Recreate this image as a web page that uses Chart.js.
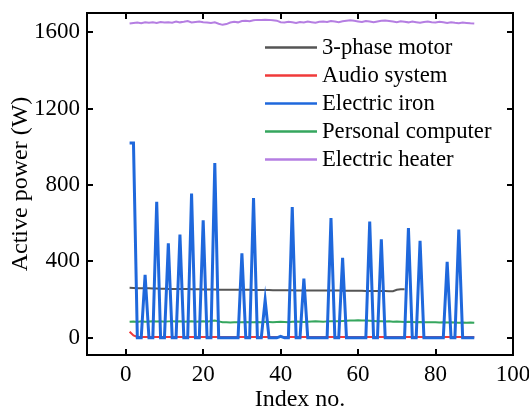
<!DOCTYPE html>
<html>
<head>
<meta charset="utf-8">
<title>Active power by appliance</title>
<script src="https://cdn.jsdelivr.net/npm/chart.js@4/dist/chart.umd.min.js"></script>
<style>
  html, body { margin: 0; padding: 0; background: #fff; }
  #wrap { width: 529px; height: 412px; }
</style>
</head>
<body>
<div id="wrap"><canvas id="powerChart" width="529" height="412"></canvas></div>
<script>
// ---- data ----
const indexNo = [
  1, 2, 3, 4, 5, 6, 7, 8, 9, 10, 11, 12, 13, 14, 15, 16, 17, 18, 19, 20,
  21, 22, 23, 24, 25, 26, 27, 28, 29, 30, 31, 32, 33, 34, 35, 36, 37, 38, 39, 40,
  41, 42, 43, 44, 45, 46, 47, 48, 49, 50, 51, 52, 53, 54, 55, 56, 57, 58, 59, 60,
  61, 62, 63, 64, 65, 66, 67, 68, 69, 70, 71, 72, 73, 74, 75, 76, 77, 78, 79, 80,
  81, 82, 83, 84, 85, 86, 87, 88, 89, 90
];

const motor = [
  262, 261, 260, 260, 259, 259, 258, 258, 257, 257, 256, 256, 256, 255, 255, 255, 254, 254, 254, 253,
  253, 253, 253, 252, 252, 252, 252, 251, 251, 251, 251, 251, 250, 250, 250, 250, 250, 249, 249, 249,
  249, 249, 249, 248, 248, 248, 248, 248, 248, 247, 247, 247, 247, 247, 247, 246, 246, 246, 246, 246,
  246, 245, 245, 245, 245, 245, 245, 244, 244, 251, 254, 254
];

const audio = [
  32, 12, 4, 4, 4, 4, 4, 4, 4, 4, 4, 4, 4, 4, 4, 4, 4, 4, 4, 4,
  4, 4, 4, 4, 4, 4, 4, 4, 4, 4, 4, 4, 4, 4, 4, 4, 4, 4, 4, 4,
  4, 4, 4, 4, 4, 4, 4, 4, 4, 4, 4, 4, 4, 4, 4, 4, 4, 4, 4, 4,
  4, 4, 4, 4, 4, 4, 4, 4, 4, 4, 4, 4, 4, 4, 4, 4, 4, 4, 4, 4,
  4, 4, 4, 4, 4, 4, 4, 4, 4, 4
];

const iron = [
  1020, 1020, 0, 0, 330, 0, 0, 712, 0, 0, 495, 0, 0, 540, 0, 0, 755, 0, 0, 615,
  0, 0, 915, 0, 0, 0, 0, 0, 0, 442, 0, 0, 732, 0, 0, 198, 0, 0, 0, 8,
  0, 0, 685, 0, 0, 310, 0, 0, 0, 0, 0, 0, 627, 0, 0, 418, 0, 0, 0, 0,
  0, 0, 608, 0, 0, 515, 0, 0, 0, 0, 0, 0, 574, 0, 0, 508, 0, 0, 0, 0,
  0, 0, 398, 0, 0, 567, 0, 0, 0, 0
];

const computer = [
  84, 85, 83, 86, 84, 85, 87, 85, 86, 84, 86, 87, 85, 86, 84, 85, 86, 84, 85, 86,
  84, 88, 90, 86, 82, 81, 80, 81, 82, 81, 83, 82, 81, 83, 82, 84, 83, 82, 83, 84,
  83, 82, 84, 85, 84, 83, 84, 85, 86, 85, 84, 86, 87, 86, 87, 88, 89, 90, 91, 92,
  91, 90, 89, 88, 87, 86, 85, 86, 84, 85, 84, 83, 84, 83, 82, 83, 82, 81, 82, 81,
  80, 81, 80, 81, 80, 79, 80, 79, 80, 79
];

const heater = [
  1645, 1648, 1650, 1647, 1652, 1649, 1651, 1648, 1653, 1650,
  1652, 1649, 1655, 1651, 1654, 1658, 1650, 1653, 1656, 1652,
  1650, 1648, 1651, 1644, 1638, 1642, 1650, 1654, 1651, 1658,
  1660, 1657, 1662, 1664, 1663, 1665, 1664, 1662, 1660, 1652,
  1650, 1654, 1651, 1648, 1653, 1650, 1655, 1652, 1649, 1654,
  1656, 1653, 1658, 1655, 1652, 1657, 1660, 1662, 1659, 1656,
  1653, 1658, 1655, 1652, 1656, 1659, 1661, 1658, 1655, 1652,
  1657, 1654, 1651, 1655, 1652, 1649, 1653, 1656, 1652, 1650,
  1654, 1651, 1648, 1652, 1649, 1647, 1650, 1648, 1646, 1645
];

const xTicks = [0, 20, 40, 60, 80, 100];
const yTicks = [0, 400, 800, 1200, 1600];

const FONT = "'Liberation Serif', 'Times New Roman', serif";

function pts(values) {
  return values.map((v, i) => ({ x: indexNo[i], y: v }));
}

// frame with inward ticks on all four sides
const framePlugin = {
  id: 'frame',
  afterDraw(chart) {
    const { ctx, chartArea: a, scales: { x, y } } = chart;
    const len = 6;
    ctx.save();
    ctx.strokeStyle = '#000';
    ctx.lineWidth = 2;
    ctx.strokeRect(a.left, a.top, a.right - a.left, a.bottom - a.top);
    ctx.beginPath();
    xTicks.forEach(v => {
      const px = Math.round(x.getPixelForValue(v));
      ctx.moveTo(px, a.bottom); ctx.lineTo(px, a.bottom - len);
      ctx.moveTo(px, a.top);    ctx.lineTo(px, a.top + len);
    });
    yTicks.forEach(v => {
      const py = Math.round(y.getPixelForValue(v));
      ctx.moveTo(a.left, py);  ctx.lineTo(a.left + len, py);
      ctx.moveTo(a.right, py); ctx.lineTo(a.right - len, py);
    });
    ctx.stroke();
    ctx.restore();
  }
};

// legend inside the plot, top right
const legendPlugin = {
  id: 'innerLegend',
  afterDraw(chart) {
    const { ctx } = chart;
    const x0 = 265, x1 = 317, tx = 322, y0 = 47.5, step = 28;
    ctx.save();
    ctx.font = '22.7px ' + FONT;
    ctx.textBaseline = 'middle';
    ctx.fillStyle = '#000';
    chart.data.datasets.forEach((ds, i) => {
      const yy = y0 + i * step;
      ctx.strokeStyle = ds.borderColor;
      ctx.lineWidth = 2.5;
      ctx.beginPath();
      ctx.moveTo(x0, yy); ctx.lineTo(x1, yy);
      ctx.stroke();
      ctx.fillText(ds.label, tx, yy + 1);
    });
    ctx.restore();
  }
};

new Chart(document.getElementById('powerChart'), {
  type: 'line',
  data: {
    datasets: [
      { label: '3-phase motor',     data: pts(motor),    borderColor: '#555555', borderWidth: 2,   order: 3 },
      { label: 'Audio system',      data: pts(audio),    borderColor: '#f03a3a', borderWidth: 2,   order: 1 },
      { label: 'Electric iron',     data: pts(iron),     borderColor: '#1f68dc', borderWidth: 3,   order: 0 },
      { label: 'Personal computer', data: pts(computer), borderColor: '#35a65e', borderWidth: 2,   order: 2 },
      { label: 'Electric heater',   data: pts(heater),   borderColor: '#b57ee2', borderWidth: 2,   order: 4 }
    ]
  },
  options: {
    responsive: false,
    animation: false,
    layout: { padding: { top: 13, right: 16, left: 0, bottom: 0 } },
    elements: { point: { radius: 0 }, line: { tension: 0 } },
    plugins: { legend: { display: false }, tooltip: { enabled: false } },
    scales: {
      x: {
        type: 'linear',
        min: -10, max: 100,
        afterBuildTicks: s => { s.ticks = xTicks.map(v => ({ value: v })); },
        afterFit: s => { s.height = 57; s.paddingLeft = 0; s.paddingRight = 0; },
        grid: { display: false, drawTicks: false },
        border: { display: false },
        ticks: { color: '#000', padding: 6, maxRotation: 0, font: { family: FONT, size: 23 },
                 callback: v => String(v) },
        title: { display: true, text: 'Index no.', color: '#000', padding: { top: 0, bottom: 0 },
                 font: { family: FONT, size: 24, lineHeight: 1 } }
      },
      y: {
        min: -90, max: 1700,
        afterBuildTicks: s => { s.ticks = yTicks.map(v => ({ value: v })); },
        afterFit: s => { s.width = 87; s.paddingTop = 0; s.paddingBottom = 0; },
        grid: { display: false, drawTicks: false },
        border: { display: false },
        ticks: { color: '#000', padding: 7, font: { family: FONT, size: 23 },
                 callback: v => String(v) },
        title: { display: true, text: 'Active power (W)', color: '#000', padding: { top: 9, bottom: 0 },
                 font: { family: FONT, size: 24, lineHeight: 1 } }
      }
    }
  },
  plugins: [framePlugin, legendPlugin]
});
</script>
</body>
</html>
